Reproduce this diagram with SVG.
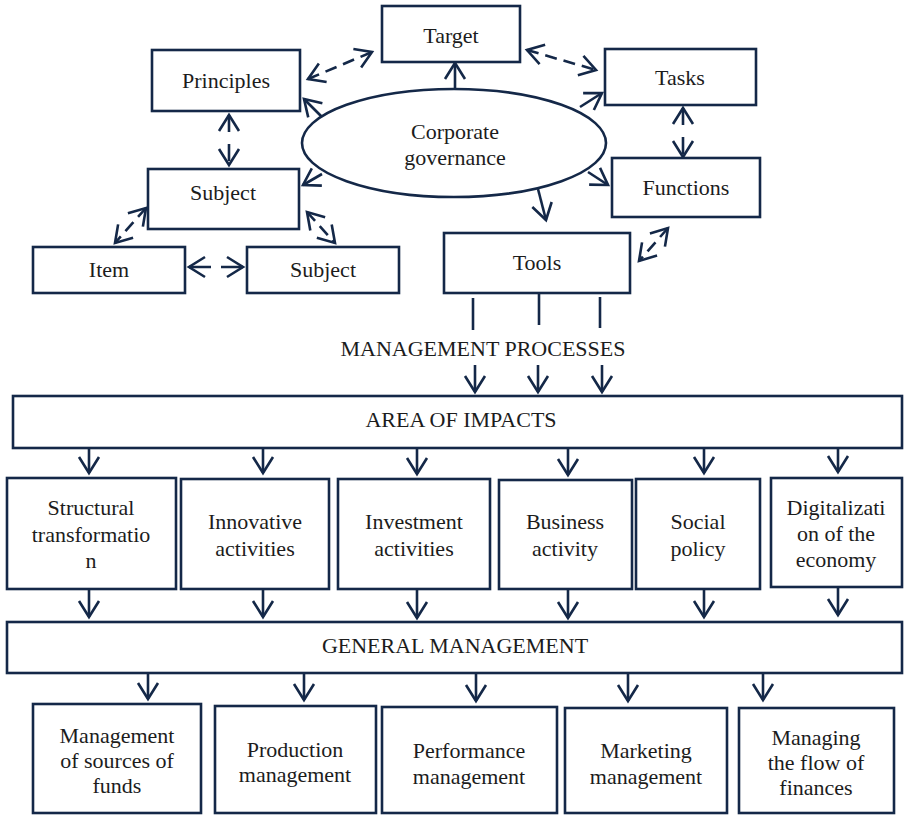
<svg xmlns="http://www.w3.org/2000/svg" width="904" height="816" viewBox="0 0 904 816" font-family="Liberation Serif, DejaVu Serif, serif">
<style>
.b{fill:#fff;stroke:#142848;stroke-width:2.6}
.t{font-family:'Liberation Serif','DejaVu Serif',serif;font-size:22px;fill:#1c1c1c;text-anchor:middle}
.c{fill:none;stroke:#142848;stroke-width:2.6}
.d{stroke-dasharray:12 7}
.a{marker-end:url(#ah)}
.aa{marker-start:url(#ah);marker-end:url(#ah)}
</style>
<defs>
<marker id="ah" markerUnits="userSpaceOnUse" markerWidth="24" markerHeight="24" refX="16" refY="11" orient="auto-start-reverse" overflow="visible">
<path d="M0,1 L16,11 L0,21" fill="none" stroke="#142848" stroke-width="2.6"/>
</marker>
</defs>
<rect width="904" height="816" fill="#fff"/>

<g id="connectors">
<line class="c a" x1="455" y1="89" x2="455" y2="63"/>
<line class="c d aa" x1="308" y1="79" x2="372" y2="52"/>
<line class="c d aa" x1="527" y1="50" x2="596" y2="70"/>
<line class="c a" x1="580" y1="107" x2="602" y2="93"/>
<line class="c a" x1="322" y1="117" x2="304" y2="99"/>
<line class="c a" x1="322" y1="174" x2="303" y2="185"/>
<line class="c a" x1="588" y1="172" x2="608" y2="185"/>
<line class="c a" x1="538" y1="189" x2="546" y2="220"/>
<line class="c aa" x1="229" y1="115" x2="229" y2="165" stroke-dasharray="17 12"/>
<line class="c aa" x1="683" y1="108" x2="683" y2="157" stroke-dasharray="17 12"/>
<line class="c d aa" x1="146" y1="208" x2="115" y2="243"/>
<line class="c d aa" x1="307" y1="212" x2="335" y2="243"/>
<line class="c aa" x1="189" y1="267" x2="243" y2="267" stroke-dasharray="22 10"/>
<line class="c d aa" x1="668" y1="228" x2="639" y2="261"/>
<line class="c" x1="473" y1="298" x2="473" y2="330"/>
<line class="c" x1="539" y1="293" x2="539" y2="325"/>
<line class="c" x1="600" y1="297" x2="600" y2="328"/>
<line class="c a" x1="475" y1="365" x2="475" y2="392"/>
<line class="c a" x1="538" y1="365" x2="538" y2="392"/>
<line class="c a" x1="602" y1="365" x2="602" y2="392"/>
<line class="c a" x1="89" y1="448" x2="89" y2="473"/>
<line class="c a" x1="263" y1="448" x2="263" y2="473"/>
<line class="c a" x1="417" y1="448" x2="417" y2="474"/>
<line class="c a" x1="568" y1="448" x2="568" y2="475"/>
<line class="c a" x1="704" y1="448" x2="704" y2="473"/>
<line class="c a" x1="838" y1="448" x2="838" y2="472"/>
<line class="c a" x1="89" y1="589" x2="89" y2="617"/>
<line class="c a" x1="263" y1="589" x2="263" y2="617"/>
<line class="c a" x1="417" y1="589" x2="417" y2="618"/>
<line class="c a" x1="568" y1="589" x2="568" y2="618"/>
<line class="c a" x1="704" y1="589" x2="704" y2="617"/>
<line class="c a" x1="838" y1="587" x2="838" y2="615"/>
<line class="c a" x1="148" y1="673" x2="148" y2="699"/>
<line class="c a" x1="304" y1="673" x2="304" y2="700"/>
<line class="c a" x1="476" y1="673" x2="476" y2="701"/>
<line class="c a" x1="628" y1="673" x2="628" y2="701"/>
<line class="c a" x1="763" y1="673" x2="763" y2="700"/>
</g>

<g id="governance"><ellipse class="b" cx="454" cy="143" rx="152" ry="54"/><text class="t" x="455" y="139">Corporate</text><text class="t" x="455" y="165">governance</text></g>
<g id="target"><rect class="b" x="382" y="6" width="138" height="56"/><text class="t" x="451" y="43">Target</text></g>
<g id="principles"><rect class="b" x="152" y="50" width="148" height="61"/><text class="t" x="226" y="88">Principles</text></g>
<g id="tasks"><rect class="b" x="605" y="49" width="151" height="56"/><text class="t" x="680" y="85">Tasks</text></g>
<g id="functions"><rect class="b" x="612" y="158" width="148" height="59"/><text class="t" x="686" y="195">Functions</text></g>
<g id="subject1"><rect class="b" x="148" y="169" width="151" height="60"/><text class="t" x="223" y="200">Subject</text></g>
<g id="item"><rect class="b" x="33" y="247" width="152" height="46"/><text class="t" x="109" y="277">Item</text></g>
<g id="subject2"><rect class="b" x="247" y="247" width="152" height="46"/><text class="t" x="323" y="277">Subject</text></g>
<g id="tools"><rect class="b" x="444" y="233" width="186" height="60"/><text class="t" x="537" y="270">Tools</text></g>
<g id="processes"><text class="t" x="483" y="356">MANAGEMENT PROCESSES</text></g>

<g id="area"><rect class="b" x="13" y="396" width="889" height="52"/><text class="t" x="461" y="427">AREA OF IMPACTS</text></g>

<g id="structural"><rect class="b" x="7" y="478" width="169" height="111"/><text class="t" x="91" y="515">Structural</text><text class="t" x="91" y="542">transformatio</text><text class="t" x="91" y="568">n</text></g>
<g id="innovative"><rect class="b" x="181" y="479" width="148" height="110"/><text class="t" x="255" y="529">Innovative</text><text class="t" x="255" y="556">activities</text></g>
<g id="investment"><rect class="b" x="338" y="479" width="152" height="110"/><text class="t" x="414" y="529">Investment</text><text class="t" x="414" y="556">activities</text></g>
<g id="business"><rect class="b" x="499" y="480" width="133" height="109"/><text class="t" x="565" y="529">Business</text><text class="t" x="565" y="556">activity</text></g>
<g id="social"><rect class="b" x="636" y="479" width="124" height="110"/><text class="t" x="698" y="529">Social</text><text class="t" x="698" y="556">policy</text></g>
<g id="digital"><rect class="b" x="771" y="478" width="131" height="109"/><text class="t" x="836" y="515">Digitalizati</text><text class="t" x="836" y="541">on of the</text><text class="t" x="836" y="567">economy</text></g>

<g id="general"><rect class="b" x="7" y="622" width="895" height="51"/><text class="t" x="455" y="653">GENERAL MANAGEMENT</text></g>

<g id="funds"><rect class="b" x="33" y="704" width="168" height="109"/><text class="t" x="117" y="743">Management</text><text class="t" x="117" y="768">of sources of</text><text class="t" x="117" y="793">funds</text></g>
<g id="production"><rect class="b" x="215" y="706" width="161" height="107"/><text class="t" x="295" y="757">Production</text><text class="t" x="295" y="782">management</text></g>
<g id="performance"><rect class="b" x="382" y="707" width="175" height="106"/><text class="t" x="469" y="758">Performance</text><text class="t" x="469" y="784">management</text></g>
<g id="marketing"><rect class="b" x="565" y="708" width="162" height="105"/><text class="t" x="646" y="758">Marketing</text><text class="t" x="646" y="784">management</text></g>
<g id="finances"><rect class="b" x="739" y="708" width="155" height="105"/><text class="t" x="816" y="745">Managing</text><text class="t" x="816" y="770">the flow of</text><text class="t" x="816" y="795">finances</text></g>
</svg>
